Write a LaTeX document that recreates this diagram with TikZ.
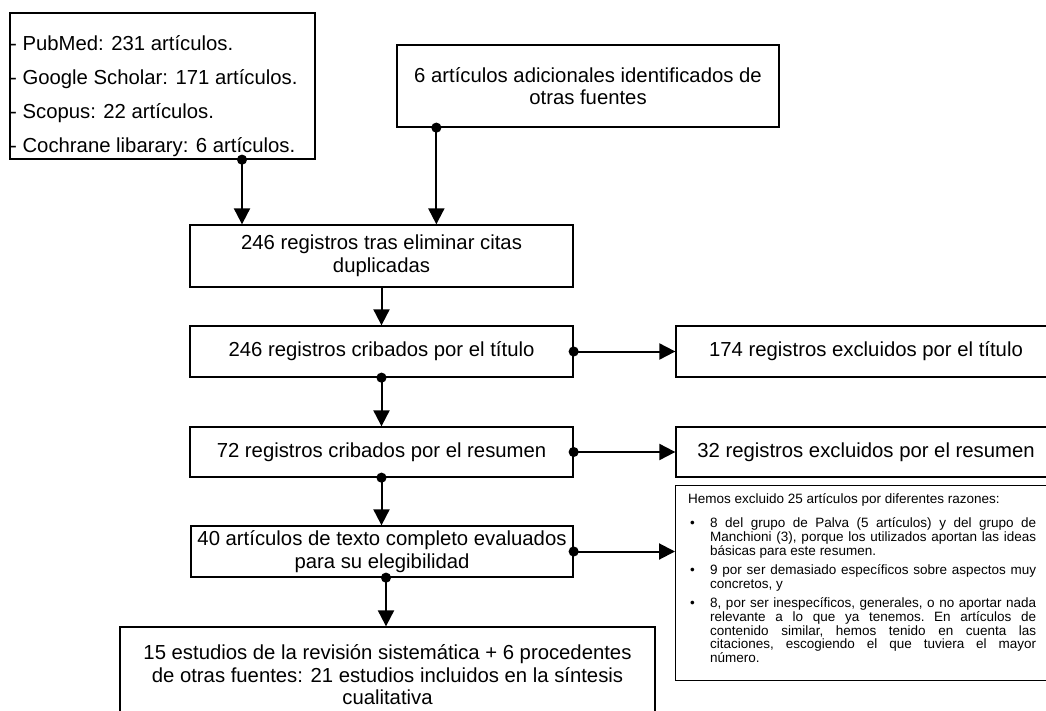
\documentclass[tikz,border=0pt]{standalone}
\usepackage{fontspec}
\setmainfont{Liberation Sans}
\usetikzlibrary{arrows.meta,positioning}
\tikzset{flow box/.style={
    draw, line width=1.3pt,
    inner sep=0pt,
    align=center,
    font=\fontsize{20.3}{22.5}\selectfont
  },
  flow arrow/.style={
    line width=2pt,
    {Circle[length=10pt]}-{Triangle[length=16pt,width=16pt]},
    shorten <=-5pt
  },
  plain arrow/.style={
    line width=2pt,
    -{Triangle[length=16pt,width=16pt]}
  }
}
\newcommand{\reasonitem}{\par\vspace{5.5pt}\noindent\hangindent=22pt\hangafter=1\makebox[22pt][l]{\hspace{2pt}•}}

\begin{document}
\begin{tikzpicture}[x=1pt,y=-1pt]
    \useasboundingbox (0,0) rectangle (1046,711);
    % identification
    \node[flow box, minimum width=305pt, minimum height=146pt] (sources) at (162.5,86) {};
    \node[anchor=north west, inner sep=0pt, align=left, font=\fontsize{20.3}{34}\selectfont] (sourcelist) at (10,35)
        {- PubMed: 231 artículos.\\- Google Scholar: 171 artículos.\\- Scopus: 22 artículos.\\- Cochrane libarary: 6 artículos.};
    \node[flow box, minimum width=382pt, minimum height=82pt] (extra) at (588,86) {6 artículos adicionales identificados de\\otras fuentes};
    \node[flow box, minimum width=383pt, minimum height=62pt] (dedup) at (381.5,256) {246 registros tras eliminar citas\\duplicadas};
    % screening
    \node[flow box, minimum width=383pt, minimum height=51pt] (title) at (381.5,351.5) {246 registros cribados por el título};
    \node[flow box, minimum width=380pt, minimum height=51pt] (exctitle) at (866,351.5) {174 registros excluidos por el título};
    \node[flow box, minimum width=383pt, minimum height=50pt] (abstract) at (381.5,452) {72 registros cribados por el resumen};
    \node[flow box, minimum width=380pt, minimum height=50pt] (excabstract) at (866,452) {32 registros excluidos por el resumen};
    % eligibility
    \node[flow box, minimum width=382pt, minimum height=51pt] (fulltext) at (382,551.5) {40 artículos de texto completo evaluados\\para su elegibilidad};
    \node[flow box, minimum width=374pt, minimum height=195pt, anchor=north west] (excfull) at (675,485) {};
    \node[anchor=north west, inner xsep=13pt, inner ysep=0pt, text width=348pt, align=justify,
          font={\fontsize{13.5}{13.8}\selectfont\tolerance=10000\frenchspacing}] (reasons) at (675,493) {%
        \noindent Hemos excluido 25 artículos por diferentes razones:\par\vspace{5pt}
        \reasonitem 8 del grupo de Palva (5 artículos) y del grupo de\linebreak Manchioni (3), porque los utilizados aportan las ideas\linebreak básicas para este resumen.
        \reasonitem 9 por ser demasiado específicos sobre aspectos muy\linebreak concretos, y
        \reasonitem 8, por ser inespecíficos, generales, o no aportar nada\linebreak relevante a lo que ya tenemos. En artículos de\linebreak contenido similar, hemos tenido en cuenta las\linebreak citaciones, escogiendo el que tuviera el mayor\linebreak número.\par};
    % included
    \node[flow box, minimum width=535pt, minimum height=96pt] (included) at (387.5,675)
        {15 estudios de la revisión sistemática + 6 procedentes\\de otras fuentes: 21 estudios incluidos en la síntesis\\cualitativa};

    \coordinate (srcout) at ([xshift=79.5pt]sources.south);
    \coordinate (extraout) at ([xshift=40pt]extra.south west);
    \coordinate (fullout) at ([xshift=4pt]fulltext.south);
    \draw[flow arrow] (srcout) -- (srcout |- dedup.north);
    \draw[flow arrow] (extraout) -- (extraout |- dedup.north);
    \draw[plain arrow] (dedup.south) -- (title.north);
    \draw[flow arrow] (title.east) -- (exctitle.west);
    \draw[flow arrow] (title.south) -- (abstract.north);
    \draw[flow arrow] (abstract.east) -- (excabstract.west);
    \draw[flow arrow] (abstract.south) -- (abstract.south |- fulltext.north);
    \draw[flow arrow] (fulltext.east) -- (fulltext.east -| excfull.west);
    \draw[flow arrow] (fullout) -- (fullout |- included.north);
\end{tikzpicture}
\end{document}
